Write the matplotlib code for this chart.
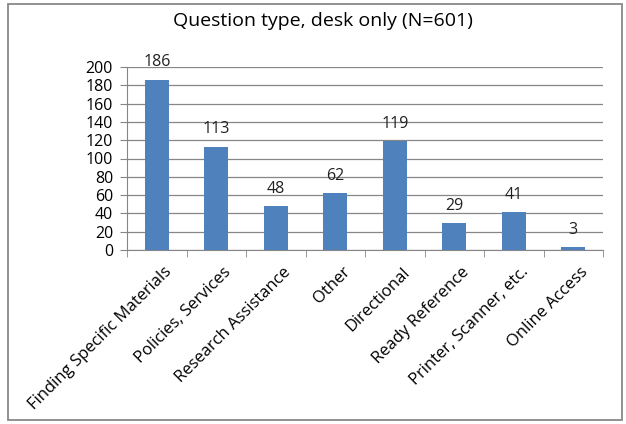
import matplotlib.pyplot as plt
from matplotlib.patches import Rectangle
from matplotlib.transforms import ScaledTranslation
import numpy as np

categories = [
    "Finding Specific Materials",
    "Policies, Services",
    "Research Assistance",
    "Other",
    "Directional",
    "Ready Reference",
    "Printer, Scanner, etc.",
    "Online Access",
]
counts = [186, 113, 48, 62, 119, 29, 41, 3]
yticks = list(range(0, 201, 20))

plt.rcParams["font.family"] = ["Open Sans", "DejaVu Sans"]

fig = plt.figure(figsize=(6.26, 4.24), dpi=100)
ax = fig.add_axes([127 / 626, 1 - 250 / 424, 476 / 626, 183 / 424])

x = np.arange(len(categories))
bars = ax.bar(x, counts, width=0.4, color="#4F81BD", zorder=3)
for b, v in zip(bars, counts):
    ax.annotate(str(v), (b.get_x() + b.get_width() / 2, v), xytext=(0, 12.5),
                textcoords="offset points", ha="center", va="center",
                fontsize=11.5, color="#222222")

ax.set_xlim(-0.5, len(categories) - 0.5)
ax.set_ylim(0, 200)
ax.set_yticks(yticks)
ax.tick_params(axis="y", labelsize=11.5, length=5, color="#868686", pad=5)
ax.yaxis.grid(True, color="#868686", linewidth=0.9, zorder=0)

# category labels sit between boundary ticks
ax.set_xticks(x)
ax.set_xticklabels(categories, rotation=45, ha="right", rotation_mode="anchor",
                   fontsize=12)
ax.tick_params(axis="x", length=0, pad=10)
shift = ScaledTranslation(7 / 100, 0, fig.dpi_scale_trans)
for lab in ax.get_xticklabels():
    lab.set_transform(lab.get_transform() + shift)
ax.set_xticks(np.arange(-0.5, len(categories)), minor=True)
ax.tick_params(axis="x", which="minor", length=5, color="#868686")

for side in ["top", "right"]:
    ax.spines[side].set_visible(False)
ax.spines["left"].set_color("#868686")
ax.spines["bottom"].set_color("#868686")

fig.text(323 / 626, 1 - 21 / 424, "Question type, desk only (N=601)",
         ha="center", va="center", fontsize=14)

fig.patches.append(Rectangle((8 / 626, 4 / 424), 614 / 626, 416 / 424,
                             transform=fig.transFigure, fill=False,
                             edgecolor="#888888", linewidth=1.3))

fig.savefig("out.png", dpi=100)
